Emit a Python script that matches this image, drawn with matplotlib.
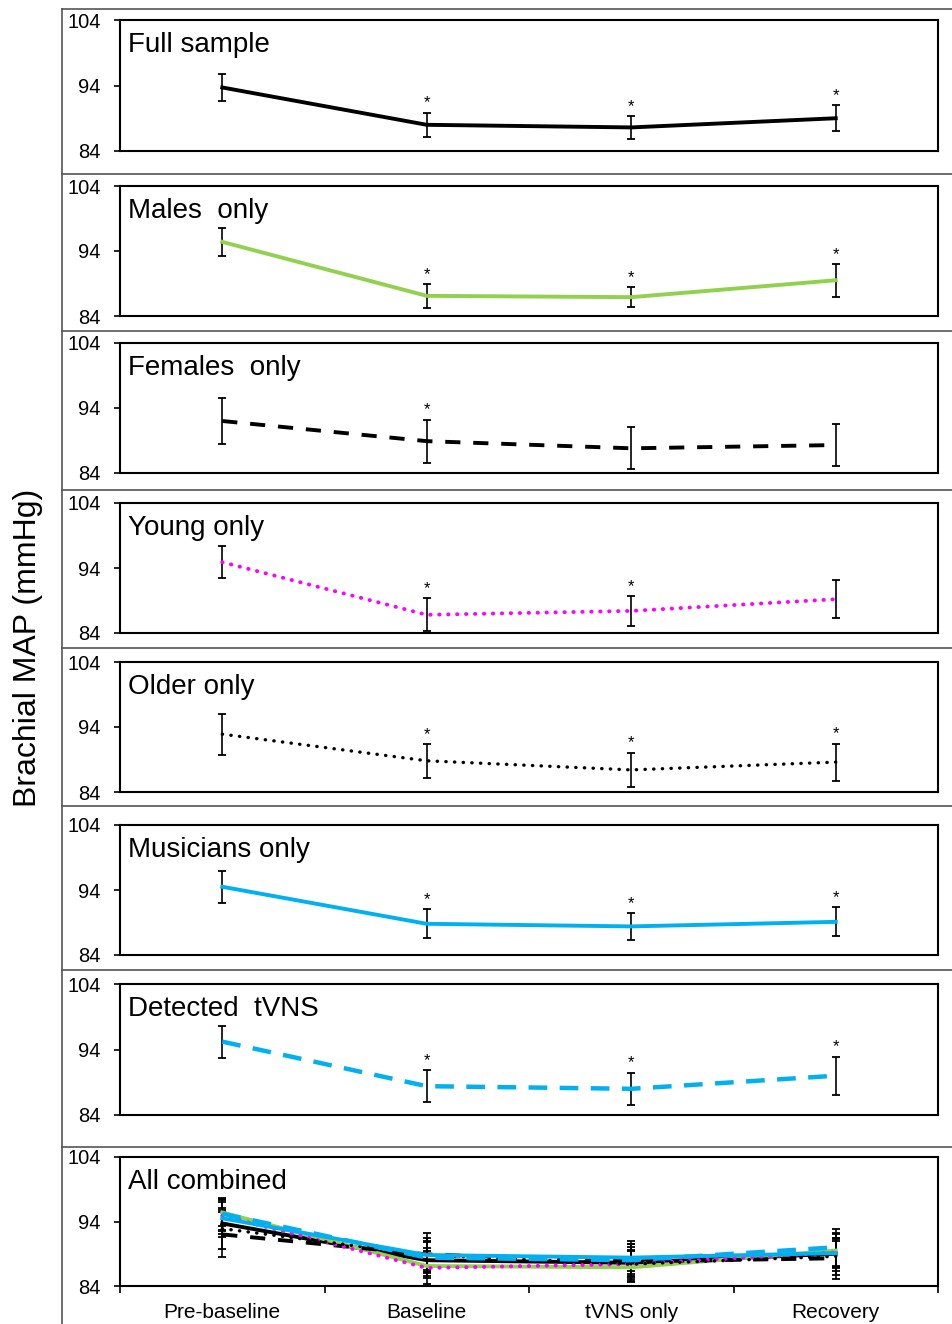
import matplotlib
matplotlib.use('Agg')
import matplotlib.pyplot as plt
from matplotlib.lines import Line2D

plt.rcParams['font.family'] = ['Liberation Sans', 'DejaVu Sans']

timepoints = ['Pre-baseline', 'Baseline', 'tVNS only', 'Recovery']
groups = ['Full sample', 'Males  only', 'Females  only', 'Young only',
          'Older only', 'Musicians only', 'Detected  tVNS']

full_mean = [93.7, 88.0, 87.6, 89.0]
full_err = [2.1, 1.85, 1.75, 2.0]
males_mean = [95.4, 87.1, 86.9, 89.5]
males_err = [2.15, 1.8, 1.5, 2.5]
females_mean = [92.0, 88.9, 87.8, 88.3]
females_err = [3.55, 3.3, 3.2, 3.2]
young_mean = [94.9, 86.8, 87.4, 89.2]
young_err = [2.45, 2.55, 2.25, 2.95]
older_mean = [92.9, 88.8, 87.4, 88.6]
older_err = [3.15, 2.6, 2.65, 2.85]
musicians_mean = [94.5, 88.8, 88.4, 89.1]
musicians_err = [2.45, 2.25, 2.05, 2.25]
detected_mean = [95.2, 88.4, 88.0, 90.0]
detected_err = [2.45, 2.4, 2.45, 2.9]

# 1 = significant vs pre-baseline (asterisk)
full_sig = [0, 1, 1, 1]
males_sig = [0, 1, 1, 1]
females_sig = [0, 1, 0, 0]
young_sig = [0, 1, 1, 0]
older_sig = [0, 1, 1, 1]
musicians_sig = [0, 1, 1, 1]
detected_sig = [0, 1, 1, 1]

means = [full_mean, males_mean, females_mean, young_mean, older_mean, musicians_mean, detected_mean]
errs = [full_err, males_err, females_err, young_err, older_err, musicians_err, detected_err]
sigs = [full_sig, males_sig, females_sig, young_sig, older_sig, musicians_sig, detected_sig]

# line styles per group
styles = [
    dict(color='black', lw=2.8, ls='-'),
    dict(color='#92D050', lw=2.8, ls='-'),
    dict(color='black', lw=2.8, ls=(0, (3.9, 3.3))),
    dict(color='#FF00FF', lw=2.8, ls=(0, (0.1, 2.2)), dash_capstyle='round'),
    dict(color='black', lw=2.4, ls=(0, (0.1, 2.5)), dash_capstyle='round'),
    dict(color='#00B0F0', lw=2.8, ls='-'),
    dict(color='#00B0F0', lw=3.2, ls=(0, (4.2, 2.8))),
]

W, H = 952, 1324
fig = plt.figure(figsize=(W / 100, H / 100), dpi=100)

panel_px = [(20, 151), (186, 316), (343, 473), (503, 633), (662, 792),
            (825, 955), (984, 1115), (1157, 1286)]
sep_px = [9, 174, 331, 490, 648, 806, 970, 1147]
ax_left, ax_right = 120, 938

x = [1, 2, 3, 4]


def setup(ax, last=False):
    ax.set_xlim(0.5, 4.5)
    ax.set_ylim(84, 104)
    ax.set_yticks([84, 94, 104])
    ax.tick_params(axis='y', direction='out', length=4, width=1.2, pad=10, labelsize=14.5)
    for s in ax.spines.values():
        s.set_linewidth(1.5)
    if last:
        ax.set_xticks([0.5, 1.5, 2.5, 3.5, 4.5])
        ax.set_xticklabels([])
        ax.set_xticks(x, minor=True)
        ax.set_xticklabels(timepoints, minor=True)
        ax.tick_params(axis='x', which='major', direction='out', length=5, width=1.2)
        ax.tick_params(axis='x', which='minor', length=0, pad=12, labelsize=15)
    else:
        ax.set_xticks([])


axes = []
for i, (t, b) in enumerate(panel_px):
    ax = fig.add_axes([ax_left / W, 1 - b / H, (ax_right - ax_left) / W, (b - t) / H])
    setup(ax, last=(i == len(panel_px) - 1))
    axes.append(ax)

for i in range(7):
    ax = axes[i]
    ax.errorbar(x, means[i], yerr=errs[i], fmt='none', ecolor='black',
                elinewidth=1.2, capsize=3, capthick=1.3, zorder=2)
    ax.plot(x, means[i], zorder=3, **styles[i])
    for j in range(4):
        if sigs[i][j]:
            ax.text(x[j], means[i][j] + errs[i][j] + 0.8, '*', ha='center',
                    va='baseline', fontsize=12)
    ax.text(0.01, 0.905, groups[i], transform=ax.transAxes, ha='left', va='top', fontsize=20)

# combined panel
ax = axes[7]
for i in range(7):
    ax.errorbar(x, means[i], yerr=errs[i], fmt='none', ecolor='black',
                elinewidth=1.2, capsize=3, capthick=1.3, zorder=2)
for i in range(7):
    ax.plot(x, means[i], zorder=3, **styles[i])
ax.text(0.01, 0.905, 'All combined', transform=ax.transAxes, ha='left', va='top', fontsize=20)

# outer frame lines
for y in sep_px:
    fig.add_artist(Line2D([62 / W, 1], [1 - y / H, 1 - y / H], transform=fig.transFigure,
                          color='#555555', lw=1.2))
fig.add_artist(Line2D([62 / W, 62 / W], [1 - 9 / H, 0], transform=fig.transFigure,
                      color='#555555', lw=1.2))

fig.text(28 / W, 1 - 648 / H, 'Brachial MAP (mmHg)', rotation=90, ha='center', va='center',
         fontsize=23)

fig.savefig('out.png', dpi=100)
